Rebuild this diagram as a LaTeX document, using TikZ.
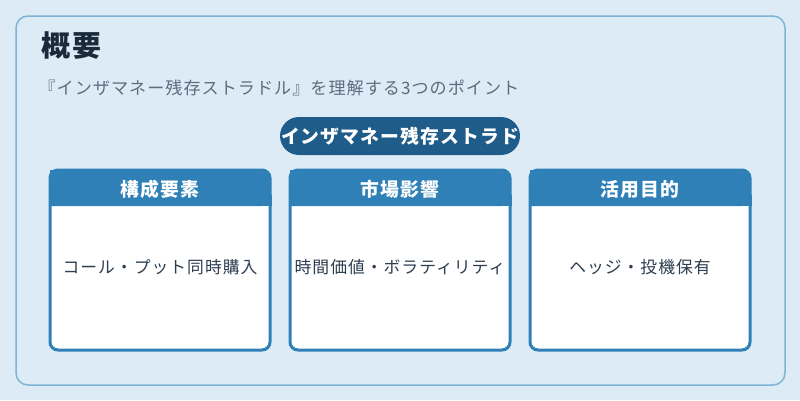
\documentclass[tikz,border=0pt]{standalone}
\usepackage{fontspec}
\setmainfont{Noto Sans CJK JP}[LetterSpace=6]
\definecolor{bgc}{HTML}{DCEBF6}
\definecolor{outerc}{HTML}{7FB3D5}
\definecolor{pillc}{HTML}{1F5C8A}
\definecolor{boxc}{HTML}{2E80B6}
\definecolor{titlec}{HTML}{1B2A3A}
\definecolor{subc}{HTML}{5D6D7E}
\definecolor{bodyc}{HTML}{2C3E50}
\tikzset{
  card/.style={draw=boxc, line width=3pt, fill=white, rounded corners=8pt},
  headtxt/.style={text=white, font=\fontsize{18.8}{22}\selectfont\bfseries, anchor=center},
  bodytxt/.style={text=bodyc, font=\fontsize{16.8}{20}\selectfont, anchor=center},
}
\begin{document}
\begin{tikzpicture}[x=1pt,y=-1pt]
\fill[bgc] (0,0) rectangle (800,400);
\useasboundingbox (0,0) rectangle (800,400);
\draw[outerc, line width=1.5pt, rounded corners=12pt] (16,16) rectangle (785,385);
\node[anchor=west, text=titlec, font=\fontsize{29}{33}\selectfont\bfseries] (title) at (38,46) {概要};
\node[anchor=west, text=subc, font=\fontsize{17.1}{20}\selectfont] (sub) at (35,88) {『インザマネー残存ストラドル』を理解する3つのポイント};
\fill[pillc, rounded corners=19pt] (280,117) rectangle (520,155);
\node[text=white, font=\fontsize{18.8}{21}\selectfont\bfseries] (pill) at (400,136) {インザマネー残存ストラド};
\foreach \x/\h/\b/\n in {50/構成要素/コール・プット同時購入/a, 290/市場影響/時間価値・ボラティリティ/b, 530/活用目的/ヘッジ・投機保有/c}{
  \draw[card] (\x,170) rectangle ++(220,180);
  \fill[boxc, rounded corners=8pt] (\x,170) -- ++(220,0) -- ++(0,36) [sharp corners] -- ++(-220,0) -- cycle;
  \fill[boxc] (\x-1.5,195) rectangle ++(223,11);
  \node[headtxt] (h\n) at (\x+110,189) {\h};
  \node[bodytxt] (b\n) at (\x+110,267) {\b};
}
\end{tikzpicture}
\end{document}
